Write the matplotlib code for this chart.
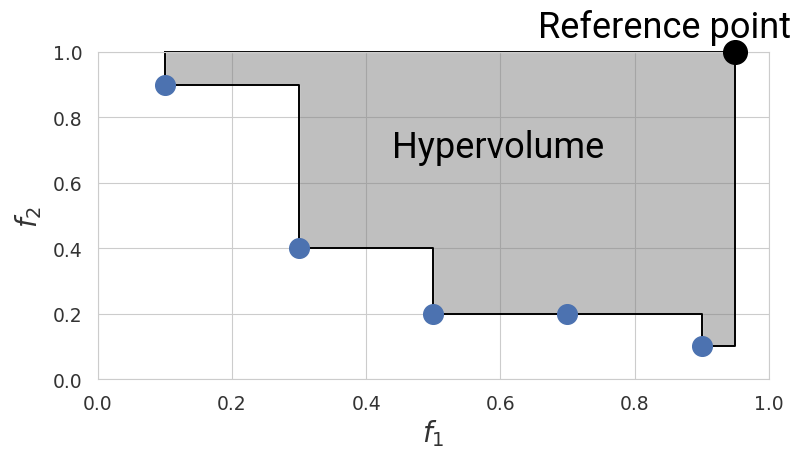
import matplotlib
matplotlib.use("Agg")
import matplotlib.pyplot as plt
import seaborn as sns

# pareto front points
f1 = [0.1, 0.3, 0.5, 0.7, 0.9]
f2 = [0.9, 0.4, 0.2, 0.2, 0.1]
ref = (0.95, 1.0)
ticks = [0.0, 0.2, 0.4, 0.6, 0.8, 1.0]

sns.set_style("whitegrid")

fig = plt.figure(figsize=(7.95, 4.52), dpi=100)
ax = fig.add_axes([0.123, 0.159, 0.844, 0.724])

# staircase outline of dominated region
xs = [f1[0], f1[0]]
ys = [ref[1], f2[0]]
for i in range(1, len(f1)):
    if f2[i] < f2[i - 1]:
        xs += [f1[i], f1[i]]
        ys += [f2[i - 1], f2[i]]
xs += [ref[0], ref[0]]
ys += [f2[-1], ref[1]]

ax.fill(xs, ys, facecolor="gray", alpha=0.5, zorder=1)
ax.plot(xs + [xs[0]], ys + [ys[0]], color="black", lw=1.4, zorder=2,
        clip_on=False)

ax.scatter(f1, f2, s=200, color="#4C72B0", zorder=3, clip_on=False)
ax.scatter([ref[0]], [ref[1]], s=290, color="black", zorder=3, clip_on=False)

ax.text(0.596, 0.679, "Hypervolume", fontsize=26, family="Roboto",
        color="black", ha="center", va="baseline")
ax.text(0.845, 1.046, "Reference point", fontsize=26, family="Roboto",
        color="black", ha="center", va="baseline", clip_on=False)

ax.set_xlim(0, 1)
ax.set_ylim(0, 1)
ax.set_xticks(ticks)
ax.set_yticks(ticks)
ax.tick_params(labelsize=13.5, colors="#333333", pad=7.5)
ax.set_xlabel("$f_1$", fontsize=20, color="#333333", labelpad=3)
ax.set_ylabel("$f_2$", fontsize=20, color="#333333", labelpad=6)

fig.savefig("out.png", dpi=100)
